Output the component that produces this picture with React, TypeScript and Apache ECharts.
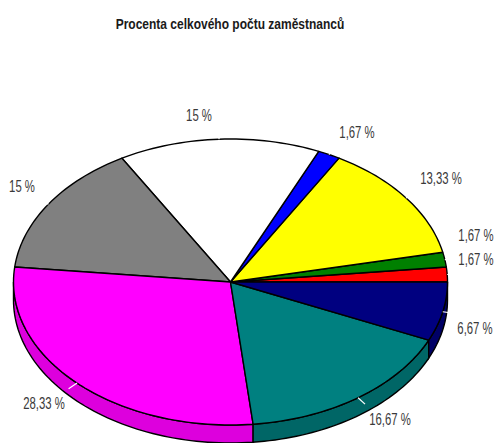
import React, { useEffect, useRef } from "react";
import * as echarts from "echarts";

const titleText = "Procenta celkového počtu zaměstnanců";
const values = [1.67, 1.67, 13.33, 1.67, 15, 15, 28.33, 16.67, 6.67];
const topColors = ["#ff0000", "#008000", "#ffff00", "#0000ff", "#ffffff", "#808080", "#ff00ff", "#008080", "#000080"];
const sideColors = ["#dd0000", "#006600", "#dddd00", "#0000dd", "#dddddd", "#666666", "#dd00dd", "#006666", "#000066"];
const labelXs = [476, 476, 441, 357, 199, 22, 44, 390, 475];
const labelYs = [259, 235, 178, 132, 115, 186, 403, 419, 328];

const CX = 230.5, CY = 282, RX = 217, RY = 143, DEPTH = 18;
const FONT = "'Liberation Sans', Arial, sans-serif";
const total = values.reduce((a, b) => a + b, 0);
const pt = (deg: number, k = 1): [number, number] => [
  CX + RX * k * Math.cos((deg * Math.PI) / 180),
  CY - RY * k * Math.sin((deg * Math.PI) / 180),
];
const arcPts = (a: number, b: number, dy = 0) => {
  const out: string[] = [];
  const steps = Math.max(2, Math.ceil(Math.abs(b - a) / 1.5));
  for (let i = 0; i <= steps; i++) {
    const p = pt(a + ((b - a) * i) / steps);
    out.push(`${p[0].toFixed(2)} ${(p[1] + dy).toFixed(2)}`);
  }
  return out;
};

export default function App() {
  const ref = useRef<HTMLDivElement>(null);
  useEffect(() => {
    const chart = echarts.init(ref.current!, null, { renderer: "svg" });
    const starts: number[] = [];
    values.reduce((acc, v, i) => {
      starts[i] = acc;
      return acc + (v / total) * 360;
    }, 0);
    chart.setOption({
      animation: false,
      backgroundColor: "#ffffff",
      graphic: [
        {
          type: "text",
          x: 230,
          y: 24,
          scaleX: 0.8,
          style: {
            text: titleText,
            fontFamily: FONT,
            fontSize: 15,
            fontWeight: "bold",
            fill: "#1a1a1a",
            align: "center",
            verticalAlign: "middle",
          },
        },
      ],
      series: [
        {
          type: "custom",
          coordinateSystem: "none",
          clip: false,
          data: values,
          renderItem: (params: any, api: any) => {
            const i = params.dataIndex;
            const v = api.value(0);
            const a = starts[i];
            const b = a + (v / total) * 360;
            const mid = (a + b) / 2;
            const children: any[] = [];
            const sa = Math.max(a, 180), sb = Math.min(b, 360);
            if (sb > sa) {
              const upper = arcPts(sa, sb);
              const lower = arcPts(sb, sa, DEPTH);
              children.push({
                type: "path",
                shape: { pathData: "M" + upper.concat(lower).join(" L") + " Z" },
                style: { fill: sideColors[i], stroke: "#000", lineWidth: 1.4 },
              });
            }
            children.push({
              type: "path",
              shape: { pathData: `M${CX} ${CY} L` + arcPts(a, b).join(" L") + " Z" },
              style: { fill: topColors[i], stroke: "#000", lineWidth: 1.4, lineJoin: "round" },
            });
            const p1 = pt(mid, 1), p2 = pt(mid, 1.055);
            children.push({
              type: "line",
              shape: { x1: p1[0], y1: p1[1], x2: p2[0], y2: p2[1] },
              style: { stroke: "#ffffff", lineWidth: 1.2 },
            });
            children.push({
              type: "text",
              x: labelXs[i],
              y: labelYs[i],
              scaleX: 0.71,
              style: {
                text: String(v).replace(".", ",") + " %",
                fontFamily: FONT,
                fontSize: 16,
                fill: "#3a3a3a",
                align: "center",
                verticalAlign: "middle",
              },
            });
            return { type: "group", children };
          },
        },
      ],
    });
    return () => chart.dispose();
  }, []);
  return <div ref={ref} style={{ position: "absolute", left: 0, top: 0, width: 494, height: 443 }} />;
}
